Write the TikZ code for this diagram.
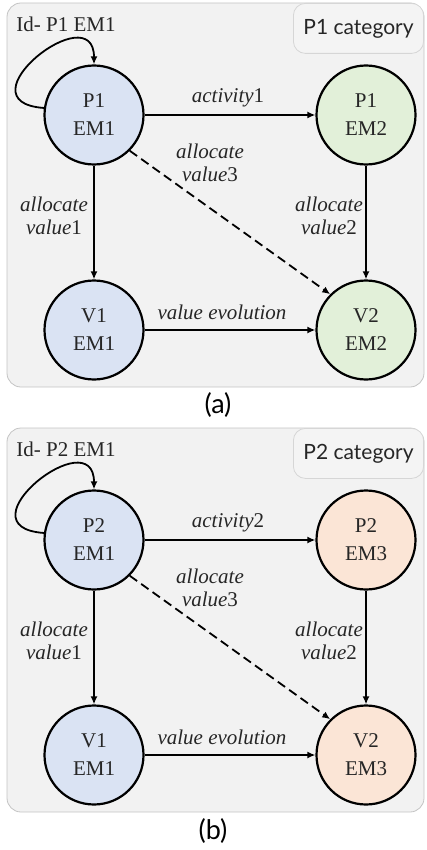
\documentclass[tikz,border=0pt]{standalone}
\usepackage{fontspec}
\setmainfont{Liberation Serif}
\newfontfamily\catfont{Lato}
\usetikzlibrary{arrows.meta}
\definecolor{panelfill}{HTML}{F2F2F2}
\definecolor{panelline}{HTML}{C4C4C4}
\definecolor{catline}{HTML}{D6D6D6}
\definecolor{catfill}{HTML}{F4F4F4}
\definecolor{blueN}{HTML}{DAE3F3}
\definecolor{greenN}{HTML}{E2F0D9}
\definecolor{orangeN}{HTML}{FBE5D6}
\definecolor{txt}{HTML}{262626}
\newcommand\itw[1]{{\itshape #1}}
\tikzset{
  panel/.style={draw=panelline, fill=panelfill, line width=0.8pt, rounded corners=14pt},
  catbox/.style={draw=catline, fill=catfill, line width=0.8pt, rounded corners=12pt,
    anchor=north east, minimum height=50pt, inner xsep=10pt, text=txt,
    font=\catfont\fontsize{21}{24}\selectfont},
  stnode/.style={circle, draw=black, line width=2.2pt, minimum size=99pt, inner sep=0pt,
    align=center, text=txt, font=\fontsize{21}{28}\selectfont},
  lbl/.style={align=center, text=txt, font=\fontsize{21}{23}\selectfont, inner sep=0pt},
  arr/.style={line width=1.8pt, -{Latex[length=8pt,width=7pt]}},
  capt/.style={font=\catfont\fontsize{27}{29}\selectfont, inner sep=0pt}
}
\newcommand\panelfig[6]{%
\begin{scope}[shift={(0,#2)}]
  \draw[panel] (7,3) rectangle (424,387);
  \node[catbox] (#1cat) at (424,3) {P#3 category};
  \node[stnode, fill=blueN] (#1pa) at (94,115) {P#3\\EM1};
  \node[stnode, fill=#5] (#1pb) at (366,115) {P#3\\EM#4};
  \node[stnode, fill=blueN] (#1va) at (94,330) {V1\\EM1};
  \node[stnode, fill=#5] (#1vb) at (366,330) {V2\\EM#4};
  \draw[arr] (#1pa.172) .. controls +(-86,-6) and +(0,-70) .. (#1pa.north);
  \draw[arr] (#1pa) -- (#1pb);
  \draw[arr] (#1pa) -- (#1va);
  \draw[arr] (#1pb) -- (#1vb);
  \draw[arr] (#1va) -- (#1vb);
  \draw[arr, dash pattern=on 9pt off 5pt] (#1pa.-45) -- (#1vb.135);
  \node[lbl] (#1id) at (66,24) {Id- P#3 EM1};
  \node[lbl] (#1act) at (228,98) {\itw{activity}#6};
  \node[lbl] (#1al3) at (210,163) {\itw{allocate}\\\itw{value}3};
  \node[lbl] (#1al1) at (54,216) {\itw{allocate}\\\itw{value}1};
  \node[lbl] (#1al2) at (329,216) {\itw{allocate}\\\itw{value}2};
  \node[lbl] (#1evo) at (222,312) {\itw{value evolution}};
\end{scope}}
\begin{document}
\begin{tikzpicture}[x=1pt,y=-1pt]
  \useasboundingbox (0,0) rectangle (426,850);
  \panelfig{a}{0}{1}{2}{greenN}{1}
  \panelfig{b}{425}{2}{3}{orangeN}{2}
  \node[capt] (capa) at (218,405) {(a)};
  \node[capt] (capb) at (213,831) {(b)};
\end{tikzpicture}
\end{document}
